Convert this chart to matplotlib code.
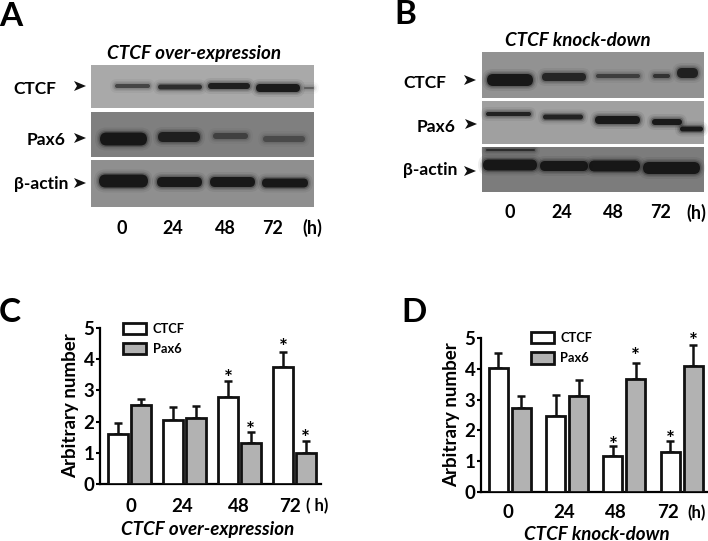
import matplotlib
matplotlib.use("Agg")
import matplotlib.pyplot as plt
from matplotlib.patches import FancyBboxPatch, Rectangle, Polygon

plt.rcParams['font.family'] = ['Lato', 'DejaVu Sans']
plt.rcParams['font.weight'] = 'bold'
plt.rcParams['axes.labelweight'] = 'bold'

W, H = 708, 541

hours = ['0', '24', '48', '72']

# panel C values
c_ctcf = [1.6, 2.05, 2.8, 3.75]
c_ctcf_top = [1.97, 2.48, 3.3, 4.22]
c_pax6 = [2.52, 2.13, 1.33, 1.0]
c_pax6_top = [2.73, 2.5, 1.68, 1.38]
c_ctcf_star = [None, None, 3.58, 4.57]
c_pax6_star = [None, None, 1.92, 1.68]

# panel D values
d_ctcf = [4.03, 2.48, 1.17, 1.3]
d_ctcf_top = [4.52, 3.14, 1.49, 1.66]
d_pax6 = [2.73, 3.12, 3.66, 4.08]
d_pax6_top = [3.12, 3.65, 4.19, 4.76]
d_ctcf_star = [None, None, 1.71, 1.93]
d_pax6_star = [None, None, 4.62, 5.1]

# blot strips: left, top, right, bottom, gray level
a_strips = [(91, 65, 314, 108, '#a9a9a9'), (91, 112, 314, 157, '#7f7f7f'), (91, 160, 314, 207, '#8f8f8f')]
b_strips = [(482, 52, 704, 98, '#929292'), (482, 101, 704, 144, '#a0a0a0'), (482, 147, 704, 192, '#7c7c7c')]

# blot bands: x from, x to, y, height, darkness
a_bands = [
    (115, 150, 86, 4, 0.6), (158, 202, 87, 5, 0.8), (208, 250, 86, 6, 0.95), (256, 300, 88, 8, 1.0), (304, 314, 88, 2, 0.4),
    (100, 147, 139, 13, 1.0), (158, 200, 137, 10, 0.9), (213, 248, 136, 6, 0.5), (263, 305, 139, 6, 0.4),
    (99, 148, 181, 13, 1.0), (157, 202, 182, 10, 1.0), (210, 255, 182, 10, 1.0), (262, 308, 183, 9, 1.0),
]
b_bands = [
    (487, 533, 80, 12, 1.0), (542, 586, 77, 8, 0.85), (596, 640, 76, 4, 0.6), (653, 670, 76, 4, 0.7), (677, 698, 73, 10, 0.9),
    (486, 531, 114, 4, 0.9), (543, 583, 117, 5, 0.9), (595, 640, 120, 8, 1.0), (652, 682, 122, 6, 1.0), (680, 703, 129, 5, 1.0),
    (486, 535, 150, 2, 0.7), (483, 537, 165, 11, 1.0), (540, 588, 166, 10, 1.0), (589, 640, 166, 11, 1.0), (643, 700, 168, 12, 1.0),
]

# row labels: name, centre x, y, arrow x, arrow y
a_rows = [('CTCF', 35, 89, 80, 86), ('Pax6', 46, 140, 80, 138), ('\u03b2-actin', 41, 184, 80, 183)]
b_rows = [('CTCF', 425, 83, 470, 80), ('Pax6', 436, 127, 471, 124), ('\u03b2-actin', 430, 170, 470, 171)]


def px_ax(left, top, right, bottom):
    return fig.add_axes([left / W, 1 - bottom / H, (right - left) / W, (bottom - top) / H])


def draw_band(ax, x0, x1, y, h, dark):
    # soft edge from stacked rounded boxes
    for grow, a in [(5, 0.07), (3, 0.12), (1.5, 0.25), (0, 0.9)]:
        hh = h + 2 * grow
        r = hh / 2
        ax.add_patch(FancyBboxPatch((x0 - grow + r, y - hh / 2 + r), x1 - x0 + 2 * grow - 2 * r if x1 - x0 + 2 * grow > 2 * r else 0.1, 0.01,
                                    boxstyle='round,pad=%f,rounding_size=%f' % (r, r), mutation_aspect=1,
                                    color='#111111', alpha=a * dark, lw=0))


def draw_arrow(ax, x, y):
    ax.add_patch(Polygon([(x - 6, y - 5), (x + 6, y), (x - 6, y + 5), (x - 3, y)], color='#111111', lw=0))


def draw_bars(ax, ctcf, ctcf_top, pax6, pax6_top, ctcf_star, pax6_star, off, width, xlim):
    xs = list(range(4))
    kw = dict(edgecolor='#111111', linewidth=2, zorder=3)
    b1 = ax.bar([x - off for x in xs], ctcf, width, color='white', label='CTCF', **kw)
    b2 = ax.bar([x + off for x in xs], pax6, width, color='#b2b2b2', label='Pax6', **kw)
    for i in xs:
        for x, v, t, st in [(i - off, ctcf[i], ctcf_top[i], ctcf_star[i]), (i + off, pax6[i], pax6_top[i], pax6_star[i])]:
            ax.errorbar(x, v, yerr=[[0], [t - v]], color='#111111', elinewidth=1.8, capsize=3, capthick=1.8, zorder=2)
            if st is not None:
                ax.annotate('*', (x, st), xytext=(0, -5), textcoords='offset points', ha='center', va='center',
                            fontsize=15, annotation_clip=False)
    ax.set_xlim(*xlim)
    ax.set_ylim(0, 5)
    ax.set_yticks(range(6))
    ax.set_xticks([])
    ax.tick_params(axis='y', length=3, width=1.5, labelsize=13.5, pad=1)
    ax.patch.set_alpha(0)
    for s in ['top', 'right']:
        ax.spines[s].set_visible(False)
    for s in ['left', 'bottom']:
        ax.spines[s].set_linewidth(1.6)
    ax.set_ylabel('Arbitrary number', fontsize=13.5, labelpad=3)
    return b1, b2


fig = plt.figure(figsize=(W / 100, H / 100), dpi=100)

# full figure layer in pixel coordinates for the blots and loose text
bg = fig.add_axes([0, 0, 1, 1])
bg.set_xlim(0, W)
bg.set_ylim(H, 0)
bg.axis('off')

for strips, bands in [(a_strips, a_bands), (b_strips, b_bands)]:
    for x0, y0, x1, y1, c in strips:
        bg.add_patch(Rectangle((x0, y0), x1 - x0, y1 - y0, color=c, lw=0))
    for x0, x1, y, h, dark in bands:
        draw_band(bg, x0, x1, y, h, dark)
    # white gaps keep the halos inside their strips
    for (x0, y0, x1, y1, c), nxt in zip(strips[:-1], strips[1:]):
        bg.add_patch(Rectangle((x0, y1), x1 - x0, nxt[1] - y1, color='white', lw=0))

for rows in [a_rows, b_rows]:
    for name, tx, ty, ax_, ay in rows:
        bg.text(tx, ty, name, ha='center', va='center', fontsize=12.5)
        draw_arrow(bg, ax_, ay)

for letter, x, y in [('A', 11, 16), ('B', 405, 15), ('C', 10, 313), ('D', 414, 313)]:
    bg.text(x, y, letter, ha='center', va='center', fontsize=24)

bg.text(194, 53, 'CTCF over-expression', ha='center', va='center', fontsize=13.6, style='italic')
bg.text(578, 40, 'CTCF knock-down', ha='center', va='center', fontsize=13.5, style='italic')

for t, x in zip(hours, [122, 173, 225, 273]):
    bg.text(x, 228, t, ha='center', va='center', fontsize=13)
bg.text(312, 228, '(h)', ha='center', va='center', fontsize=13)
for t, x in zip(hours, [510, 562, 613, 661]):
    bg.text(x, 213, t, ha='center', va='center', fontsize=13)
bg.text(696, 213, '(h)', ha='center', va='center', fontsize=13)

leg_kw = dict(loc='upper left', frameon=False, fontsize=9.3, handlelength=1.78, handleheight=1.0,
              labelspacing=0.62, handletextpad=0.5, borderpad=0, borderaxespad=0)

# panel C
ax_c = px_ax(100, 328, 321, 484)
bars = draw_bars(ax_c, c_ctcf, c_ctcf_top, c_pax6, c_pax6_top, c_ctcf_star, c_pax6_star,
                 0.205, 0.36, (-0.536, 3.48))
ax_c.legend(bars, ['CTCF', 'Pax6'], bbox_to_anchor=(0.105, 1.035), **leg_kw)
for t, x in zip(hours, [131, 182, 239, 290]):
    bg.text(x, 506, t, ha='center', va='center', fontsize=13.5)
bg.text(317, 506, '( h)', ha='center', va='center', fontsize=12)
bg.text(208, 529, 'CTCF over-expression', ha='center', va='center', fontsize=13.5, style='italic')

# panel D
ax_d = px_ax(481, 338, 707, 492)
bars = draw_bars(ax_d, d_ctcf, d_ctcf_top, d_pax6, d_pax6_top, d_ctcf_star, d_pax6_star,
                 0.2, 0.33, (-0.5, 3.44))
ax_d.legend(bars, ['CTCF', 'Pax6'], bbox_to_anchor=(0.22, 1.04), **leg_kw)
for t, x in zip(hours, [508, 564, 616, 668]):
    bg.text(x, 513, t, ha='center', va='center', fontsize=13.5)
bg.text(697, 513, '(h)', ha='center', va='center', fontsize=12)
bg.text(597, 534, 'CTCF knock-down', ha='center', va='center', fontsize=13.5, style='italic')

fig.savefig('out.png', dpi=100)
